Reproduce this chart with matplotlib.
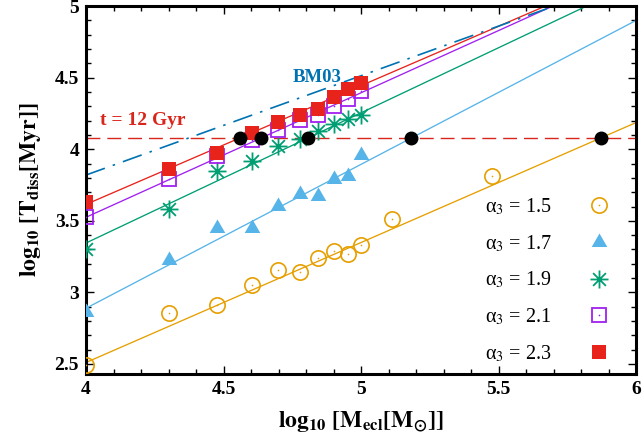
import numpy as np
import matplotlib
matplotlib.use("Agg")
import matplotlib.pyplot as plt
from matplotlib.path import Path
from matplotlib.ticker import MultipleLocator, FormatStrFormatter
from matplotlib.legend_handler import HandlerTuple

plt.rcParams["font.family"] = ["Liberation Serif", "DejaVu Serif"]
plt.rcParams["mathtext.fontset"] = "stix"

# log10 of cluster mass for the simulated models
log_mass = [4.0, 4.301, 4.477, 4.602, 4.699, 4.778, 4.845, 4.903, 4.954, 5.0]
log_mass_a15 = log_mass + [5.114, 5.477]

# log10 dissolution time [Myr] for each alpha_3
t_a15 = [2.49, 2.857, 2.915, 3.052, 3.159, 3.143, 3.24, 3.29, 3.266, 3.333, 3.513, 3.814]
t_a17 = [2.864, 3.224, 3.45, 3.45, 3.607, 3.689, 3.67, 3.79, 3.81, 3.96]
t_a19 = [3.305, 3.584, 3.849, 3.915, 4.024, 4.073, 4.13, 4.175, 4.212, 4.24]
t_a21 = [3.53, 3.794, 3.956, 4.063, 4.133, 4.207, 4.242, 4.305, 4.354, 4.405]
t_a23 = [3.635, 3.861, 3.975, 4.112, 4.189, 4.24, 4.282, 4.363, 4.42, 4.46]

# linear fits: value at log M = 4 and slope
fit_at4 = [2.51, 2.889, 3.345, 3.525, 3.615]
fit_slope = [0.8386, 1.006, 0.91, 0.87, 0.83]

# Baumgardt & Makino (2003) relation
bm03_at4 = 3.82
bm03_slope = 0.694

t_hubble = np.log10(12000.0)

alphas = ["1.5", "1.7", "1.9", "2.1", "2.3"]
colors = ["#E69F00", "#56B4E9", "#009E73", "#A020F0", "#E8231B"]

fig = plt.figure(figsize=(6.42, 4.42), dpi=100)
ax = fig.add_axes([0.134, 0.154, 0.857, 0.832])
ax.set_xlim(4, 6)
ax.set_ylim(2.43, 5)

xx = np.array([4.0, 6.0])

# fit lines
for a4, s, c in zip(fit_at4, fit_slope, colors):
    ax.plot(xx, a4 + s * (xx - 4), color=c, lw=0.95, zorder=2)

# BM03 dash-dot line
ax.plot(xx, bm03_at4 + bm03_slope * (xx - 4), color="#0072B2", lw=1.2,
        dashes=(12, 5, 1.5, 5), zorder=2)

# 12 Gyr line
ax.axhline(t_hubble, color="#D9261C", lw=1.0, dashes=(10, 5), zorder=2)

# eight-armed asterisk marker
r = 1.0
d = r / np.sqrt(2)
star_verts = [(-r, 0), (r, 0), (0, -r), (0, r), (-d, -d), (d, d), (-d, d), (d, -d)]
star_codes = [Path.MOVETO, Path.LINETO] * 4
star = Path(star_verts, star_codes)

tri = [(-1, -0.577), (1, -0.577), (0, 1.155), (-1, -0.577)]

h15a, = ax.plot(log_mass_a15, t_a15, ls="none", marker="o", ms=11, mfc="none",
                mec=colors[0], mew=1.2, zorder=4)
h15b, = ax.plot(log_mass_a15, t_a15, ls="none", marker="o", ms=1.2,
                mfc=colors[0], mec=colors[0], mew=0, zorder=4)
h17, = ax.plot(log_mass, t_a17, ls="none", marker=tri, ms=13, mfc=colors[1],
               mec=colors[1], mew=0, zorder=4)
h19, = ax.plot(log_mass, t_a19, ls="none", marker=star, ms=13, mfc="none",
               mec=colors[2], mew=1.3, zorder=4)
h19b, = ax.plot(log_mass, t_a19, ls="none", marker="o", ms=2.2,
                mfc=colors[2], mec=colors[2], mew=0, zorder=4)
h21a, = ax.plot(log_mass, t_a21, ls="none", marker="s", ms=10, mfc="none",
                mec=colors[3], mew=1.3, zorder=4)
h21b, = ax.plot(log_mass, t_a21, ls="none", marker="o", ms=1.2,
                mfc=colors[3], mec=colors[3], mew=0, zorder=4)
h23, = ax.plot(log_mass, t_a23, ls="none", marker="s", ms=10.5, mfc=colors[4],
               mec=colors[4], mew=0, zorder=5)

# crossing points of each fit with 12 Gyr
x_cross = [4 + (t_hubble - a4) / s for a4, s in zip(fit_at4, fit_slope)]
ax.plot(x_cross, [t_hubble] * len(x_cross), ls="none", marker="o", ms=9,
        color="black", zorder=6)

ax.text(4.05, 4.20, "t = 12 Gyr", color="#D9261C", fontsize=14,
        fontweight="bold", va="center", ha="left")
ax.text(4.75, 4.505, "BM03", color="#0072B2", fontsize=13.5,
        fontweight="bold", va="center", ha="left")

handles = [(h15a, h15b), h17, (h19, h19b), (h21a, h21b), h23]
labels = ["α$_3$ = " + a for a in alphas]
leg = ax.legend(handles, labels, loc="lower right",
                bbox_to_anchor=(0.985, -0.012), frameon=False, markerfirst=False,
                fontsize=14.5, labelspacing=0.8, handlelength=1.5,
                handletextpad=1.6, borderpad=0.2,
                handler_map={tuple: HandlerTuple(ndivide=1)})

# axes styling
for sp in ax.spines.values():
    sp.set_linewidth(2.2)
ax.xaxis.set_major_locator(MultipleLocator(0.5))
ax.xaxis.set_minor_locator(MultipleLocator(0.1))
ax.yaxis.set_major_locator(MultipleLocator(0.5))
ax.yaxis.set_minor_locator(MultipleLocator(0.1))
ax.xaxis.set_major_formatter(FormatStrFormatter("%g"))
ax.yaxis.set_major_formatter(FormatStrFormatter("%g"))
ax.tick_params(which="both", direction="in", top=True, right=True, width=1.0)
ax.tick_params(which="major", length=6, labelsize=14, pad=5)
ax.tick_params(which="minor", length=3.5)
for lab in ax.get_xticklabels() + ax.get_yticklabels():
    lab.set_fontweight("bold")

ax.set_xlabel(r"$\mathbf{log_{10}\ [M_{ecl}[M_{\odot}]]}$", fontsize=17, labelpad=8)
ax.set_ylabel(r"$\mathbf{log_{10}\ [T_{diss}[Myr]]}$", fontsize=17, labelpad=8)

fig.savefig("out.png", dpi=100)
